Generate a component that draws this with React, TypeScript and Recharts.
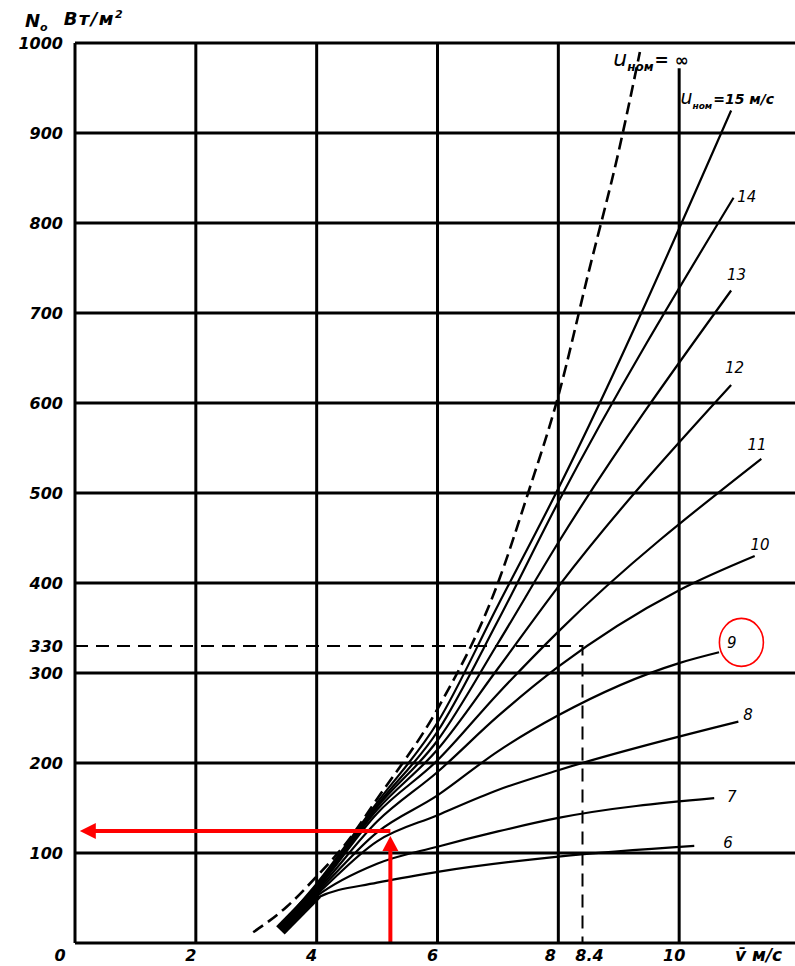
import { LineChart, Line, XAxis, YAxis, ReferenceLine, ReferenceDot } from "recharts";

type Pt = { x: number; y: number };
const pts = (rows: number[][]): Pt[] => rows.map(([x, y]) => ({ x, y }));

// power density N0 (W/m2) against mean wind speed, one curve per rated speed u_nom
const curveInf = pts([[2.95, 12], [3.5, 40], [4, 74], [4.5, 112], [5, 160], [6, 260], [7, 400], [7.5, 500], [8, 608], [8.5, 745], [9, 880], [9.35, 990]]);
const curve15 = pts([[3.5, 27], [4, 66], [5, 156], [6, 245], [7, 375], [8, 505], [10.86, 925]]);
const curve14 = pts([[3.5, 27], [4, 64], [5, 153], [6, 235], [7, 358], [8, 490], [10.9, 828]]);
const curve13 = pts([[3.5, 26], [4, 62], [5, 151], [6, 225], [7, 333], [8, 445], [10.86, 725]]);
const curve12 = pts([[3.5, 26], [4, 61], [5, 148], [6, 215], [7, 305], [8, 396], [10.86, 620]]);
const curve11 = pts([[3.5, 25], [4, 60], [5, 144], [6, 203], [7, 277], [8, 346], [11.36, 538]]);
const curve10 = pts([[3.5, 25], [4, 58], [5, 135], [6, 190], [7, 252], [8, 307], [10, 392], [11.25, 430]]);
const curve9 = pts([[3.5, 24], [4, 56], [5, 123], [6, 164], [7, 213], [8, 253], [10, 311], [10.66, 323]]);
const curve8 = pts([[3.5, 24], [4, 54], [5, 113], [6, 142], [7, 170], [8, 192], [10.98, 246]]);
const curve7 = pts([[3.5, 23], [4, 52], [5, 88], [6, 107], [7, 124], [8, 139], [10.58, 161]]);
const curve6 = pts([[3.5, 22], [4, 50], [5, 67], [6, 79], [8, 96], [10.25, 108]]);

const solidCurves = [curve6, curve7, curve8, curve9, curve10, curve11, curve12, curve13, curve14, curve15];

// thick ink blob where all curves start together
const startBand = pts([[3.4, 14], [4.0, 55]]);

// worked example: v = 8.4 m/s -> 330 W/m2
const guide330 = pts([[0, 330], [8.4, 330], [8.4, 0]]);

// red arrows drawn over the scan
const arrowUp = pts([[5.22, 0], [5.22, 104]]);
const arrowUpTip = { x: 5.22, y: 119 };
const arrowLeft = pts([[5.22, 124.4], [0.33, 124.4]]);
const arrowLeftTip = { x: 0.08, y: 124.4 };
const circleAt = { x: 11.03, y: 334 };

const xTicks = [0, 2, 4, 6, 8, 8.4, 10];
const yTicks = [100, 200, 300, 330, 400, 500, 600, 700, 800, 900, 1000];
const yGrid = [100, 200, 300, 400, 500, 600, 700, 800, 900, 1000];
const xGrid = [2, 4, 6, 8];
const x10Top = 972;

const curveLabels = [
  { x: 8.91, y: 981, text: "= ∞", sub: true, size: 17 },
  { x: 10.02, y: 939, text: "=15 м/с", sub: true, size: 14 },
  { x: 10.96, y: 829, text: "14" },
  { x: 10.79, y: 742, text: "13" },
  { x: 10.76, y: 639, text: "12" },
  { x: 11.13, y: 553, text: "11" },
  { x: 11.18, y: 442, text: "10" },
  { x: 10.79, y: 333, text: "9" },
  { x: 11.06, y: 253, text: "8" },
  { x: 10.79, y: 162, text: "7" },
  { x: 10.73, y: 111, text: "6" },
];

const INK = "#000";
const RED = "#ff0000";
const tickFont = {
  fontFamily: "DejaVu Sans",
  fontWeight: "bold" as const,
  fontStyle: "italic" as const,
  fontSize: 16,
  fill: INK,
};

const xTickShift: Record<string, number> = { "0": -15, "8.4": 7, "8": -8 };

function XTick({ x, y, payload }: any) {
  const label = String(payload.value);
  const dx = xTickShift[label] ?? -5;
  return (
    <text x={x + dx} y={y + 18} textAnchor="middle" {...tickFont}>
      {label}
    </text>
  );
}

function YTick({ x, y, payload }: any) {
  return (
    <text x={x} y={y + 6} textAnchor="end" {...tickFont}>
      {payload.value}
    </text>
  );
}

function YTitle({ viewBox }: any) {
  return (
    <text x={viewBox.x + 25} y={viewBox.y - 16} {...tickFont} fontSize={18}>
      N<tspan fontSize={11} dy={4}>о</tspan>
      <tspan dx={16} dy={-6} letterSpacing={1.5}>Вт/м</tspan>
      <tspan fontSize={11} dy={-7}>2</tspan>
    </text>
  );
}

function XTitle({ viewBox }: any) {
  return (
    <text x={viewBox.x + 660} y={viewBox.y + 18} {...tickFont} fontSize={17}>
      v̄  м/с
    </text>
  );
}

function renderLabel(p: any, lab: { text: string; sub?: boolean; size?: number }) {
  const font = { fontFamily: "DejaVu Sans", fontStyle: "italic" as const, fill: INK };
  if (lab.sub) {
    const s = lab.size ?? 16;
    return (
      <text x={p.cx} y={p.cy + 6} fontSize={s} fontWeight="bold" {...font}>
        <tspan fontSize={s + 5} fontWeight="normal">u</tspan>
        <tspan fontSize={s - 5} dy={5}>ном</tspan>
        <tspan dy={-5} dx={1}>{lab.text}</tspan>
      </text>
    );
  }
  return (
    <text x={p.cx} y={p.cy + 5} fontSize={15} {...font}>
      {lab.text}
    </text>
  );
}

export default function App() {
  return (
    <div
      style={{
        position: "fixed",
        left: 0,
        top: 0,
        width: 795,
        height: 966,
        overflow: "hidden",
        background: "#fff",
      }}
    >
      <LineChart width={800} height={966} margin={{ top: 43, right: 0, bottom: 0, left: 0 }}>
        <XAxis
          type="number"
          dataKey="x"
          domain={[0, 12]}
          ticks={xTicks}
          interval={0}
          height={23}
          tickSize={0}
          tickMargin={0}
          tickLine={false}
          axisLine={{ stroke: INK, strokeWidth: 3 }}
          tick={<XTick />}
          label={<XTitle />}
        />
        <YAxis
          type="number"
          dataKey="y"
          domain={[0, 1000]}
          ticks={yTicks}
          interval={0}
          width={75}
          tickSize={0}
          tickMargin={12}
          tickLine={false}
          axisLine={{ stroke: INK, strokeWidth: 3 }}
          tick={<YTick />}
          label={<YTitle />}
        />

        {yGrid.map((v) => (
          <ReferenceLine key={`h${v}`} y={v} stroke={INK} strokeWidth={3} />
        ))}
        {xGrid.map((v) => (
          <ReferenceLine key={`v${v}`} x={v} stroke={INK} strokeWidth={3} />
        ))}
        <ReferenceLine
          segment={[{ x: 10, y: 0 }, { x: 10, y: x10Top }]}
          stroke={INK}
          strokeWidth={3}
        />

        <Line
          data={startBand}
          dataKey="y"
          type="linear"
          stroke={INK}
          strokeWidth={12}
          strokeLinecap="butt"
          dot={false}
          activeDot={false}
          isAnimationActive={false}
        />
        {solidCurves.map((c, i) => (
          <Line
            key={`c${i}`}
            data={c}
            dataKey="y"
            type="monotone"
            stroke={INK}
            strokeWidth={2.2}
            dot={false}
            activeDot={false}
            isAnimationActive={false}
          />
        ))}
        <Line
          data={curveInf}
          dataKey="y"
          type="monotone"
          stroke={INK}
          strokeWidth={2.6}
          strokeDasharray="12 6"
          dot={false}
          activeDot={false}
          isAnimationActive={false}
        />
        <Line
          data={guide330}
          dataKey="y"
          type="linear"
          stroke={INK}
          strokeWidth={2}
          strokeDasharray="13 8"
          dot={false}
          activeDot={false}
          isAnimationActive={false}
        />

        {curveLabels.map((lab, i) => (
          <ReferenceDot
            key={`l${i}`}
            x={lab.x}
            y={lab.y}
            r={0}
            ifOverflow="visible"
            shape={(p: any) => renderLabel(p, lab)}
          />
        ))}

        <Line
          data={arrowUp}
          dataKey="y"
          type="linear"
          stroke={RED}
          strokeWidth={4}
          dot={false}
          activeDot={false}
          isAnimationActive={false}
        />
        <Line
          data={arrowLeft}
          dataKey="y"
          type="linear"
          stroke={RED}
          strokeWidth={4}
          dot={false}
          activeDot={false}
          isAnimationActive={false}
        />
        <ReferenceDot
          x={arrowUpTip.x}
          y={arrowUpTip.y}
          r={0}
          ifOverflow="visible"
          shape={(p: any) => (
            <polygon
              points={`${p.cx},${p.cy} ${p.cx - 8},${p.cy + 15} ${p.cx + 8},${p.cy + 15}`}
              fill={RED}
            />
          )}
        />
        <ReferenceDot
          x={arrowLeftTip.x}
          y={arrowLeftTip.y}
          r={0}
          ifOverflow="visible"
          shape={(p: any) => (
            <polygon
              points={`${p.cx},${p.cy} ${p.cx + 16},${p.cy - 8} ${p.cx + 16},${p.cy + 8}`}
              fill={RED}
            />
          )}
        />
        <ReferenceDot
          x={circleAt.x}
          y={circleAt.y}
          r={0}
          ifOverflow="visible"
          shape={(p: any) => (
            <ellipse cx={p.cx} cy={p.cy} rx={22} ry={24} fill="none" stroke={RED} strokeWidth={1.6} />
          )}
        />
      </LineChart>
    </div>
  );
}
